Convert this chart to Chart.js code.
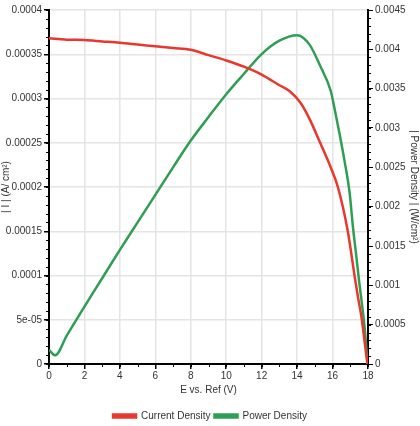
<!DOCTYPE html>
<html>
<head>
<meta charset="utf-8">
<script src="https://cdn.jsdelivr.net/npm/chart.js@4.4.0/dist/chart.umd.min.js"></script>
<style>
  html, body { margin: 0; padding: 0; background: #fff; }
  #wrap { width: 420px; height: 426px; }
</style>
</head>
<body>
<div id="wrap"><canvas id="chart" width="420" height="426"></canvas></div>
<script>
// E vs. Ref (V) and |I| (A/cm2) for the current density curve
var currentE = [0, 1, 2, 3, 4, 5, 6, 7, 8, 9, 10, 11, 12, 13, 13.6, 14.2, 14.7, 15.3, 15.9, 16.3, 16.86, 17.24, 17.43, 17.64, 17.83, 17.97];
var currentDensity = [0.000368, 0.0003665, 0.000366, 0.0003645, 0.000363, 0.000361, 0.000359, 0.000357, 0.000355, 0.000349, 0.000343, 0.000336, 0.000327, 0.000315, 0.000308, 0.000295, 0.000277, 0.00025, 0.000222, 0.0002, 0.00015, 0.0001, 0.000076, 0.000052, 0.000022, 0];

// E vs. Ref (V) and power density (W/cm2)
var powerE = [0, 0.35, 1, 2, 3, 4, 5, 6, 7, 8, 9, 10, 11, 12, 13, 14, 14.7, 15.3, 15.9, 16.1, 16.4, 16.7, 16.95, 17.16, 17.35, 17.5, 17.65, 17.77, 17.88, 17.97];
var powerDensity = [0.00018, 0.00011, 0.00036, 0.00073, 0.00109, 0.00145, 0.0018, 0.00215, 0.0025, 0.00284, 0.00314, 0.00343, 0.00369, 0.00394, 0.00411, 0.00418, 0.00406, 0.00379, 0.00347, 0.00326, 0.00292, 0.00255, 0.0022, 0.00172, 0.00135, 0.00105, 0.00078, 0.00055, 0.00028, 0];

var leftTickLabels = ['0', '5e-05', '0.0001', '0.00015', '0.0002', '0.00025', '0.0003', '0.00035', '0.0004'];
var rightTickLabels = ['0', '0.0005', '0.001', '0.0015', '0.002', '0.0025', '0.003', '0.0035', '0.004', '0.0045'];

var toPoints = function (xs, ys) {
    return xs.map(function (x, i) { return { x: x, y: ys[i] }; });
};

// small ticks between the labelled ones
var minorTicks = {
    id: 'minorTicks',
    afterDraw: function (chart) {
        var ctx = chart.ctx;
        ctx.save();
        ctx.strokeStyle = '#000';
        ctx.lineWidth = 1;
        Object.values(chart.scales).forEach(function (s) {
            var step = s.options.minorStep;
            if (!step) return;
            var n = Math.round((s.max - s.min) / step);
            for (var i = 0; i <= n; i++) {
                var p = Math.round(s.getPixelForValue(s.min + i * step)) + 0.5;
                ctx.beginPath();
                if (s.axis === 'x') {
                    ctx.moveTo(p, s.top);
                    ctx.lineTo(p, s.top + 3);
                } else if (s.position === 'left') {
                    ctx.moveTo(s.right, p);
                    ctx.lineTo(s.right - 3, p);
                } else {
                    ctx.moveTo(s.left, p);
                    ctx.lineTo(s.left + 3, p);
                }
                ctx.stroke();
            }
        });
        ctx.restore();
    }
};

var font = { family: 'Liberation Sans', size: 10 };
var textColor = '#333';

new Chart(document.getElementById('chart'), {
    type: 'line',
    data: {
        datasets: [
            {
                label: 'Current Density',
                data: toPoints(currentE, currentDensity),
                borderColor: '#e8382e',
                backgroundColor: '#e8382e',
                borderWidth: 2.5,
                pointRadius: 0,
                cubicInterpolationMode: 'monotone',
                yAxisID: 'y'
            },
            {
                label: 'Power Density',
                data: toPoints(powerE, powerDensity),
                borderColor: '#2f9e55',
                backgroundColor: '#2f9e55',
                borderWidth: 2.5,
                pointRadius: 0,
                cubicInterpolationMode: 'monotone',
                yAxisID: 'y1'
            }
        ]
    },
    options: {
        responsive: false,
        animation: false,
        layout: { padding: { top: 10, left: 0, right: 0, bottom: -5 } },
        plugins: {
            tooltip: { enabled: false },
            legend: {
                position: 'bottom',
                labels: {
                    font: font,
                    color: textColor,
                    boxWidth: 23,
                    boxHeight: 3,
                    padding: 4
                }
            }
        },
        scales: {
            x: {
                type: 'linear',
                min: 0,
                max: 18,
                minorStep: 1,
                ticks: { stepSize: 2, font: font, color: textColor, padding: 1 },
                grid: { color: '#e4e4e4', lineWidth: 1.5, tickColor: '#000', tickLength: 5 },
                border: { color: '#000', width: 2 },
                title: { display: true, text: 'E vs. Ref (V)', font: font, color: textColor, padding: { top: 0, bottom: 11 } },
                afterFit: function (s) { s.height = 43; }
            },
            y: {
                type: 'linear',
                position: 'left',
                min: 0,
                max: 0.0004,
                minorStep: 0.00001,
                ticks: {
                    stepSize: 0.00005,
                    font: font,
                    color: textColor,
                    padding: 2,
                    callback: function (v, i) { return leftTickLabels[i]; }
                },
                grid: { color: '#e4e4e4', lineWidth: 1.5, tickColor: '#000', tickLength: 5 },
                border: { color: '#000', width: 2 },
                title: { display: true, text: '| I | (A/ cm²)', font: font, color: textColor, padding: 0 },
                afterFit: function (s) { s.width = 49; }
            },
            y1: {
                type: 'linear',
                position: 'right',
                min: 0,
                max: 0.0045,
                minorStep: 0.0001,
                ticks: {
                    stepSize: 0.0005,
                    font: font,
                    color: textColor,
                    padding: 2,
                    callback: function (v, i) { return rightTickLabels[i]; }
                },
                grid: { drawOnChartArea: false, tickColor: '#000', tickLength: 5 },
                border: { color: '#000', width: 2 },
                title: { display: true, text: '| Power Density | (W/cm²)', font: font, color: textColor, padding: 0 },
                afterFit: function (s) { s.width = 52; }
            }
        }
    },
    plugins: [minorTicks]
});
</script>
</body>
</html>
